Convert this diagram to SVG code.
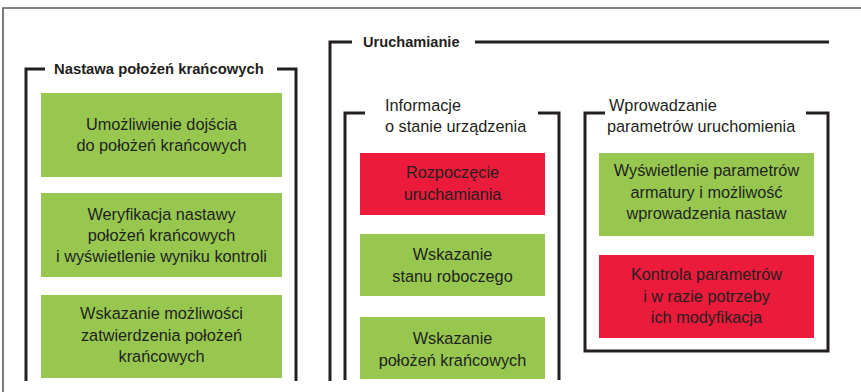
<svg xmlns="http://www.w3.org/2000/svg" width="861" height="392" viewBox="0 0 861 392">
<style>
.frame{fill:none;stroke:#5a5a5a;stroke-width:1.6}
.br{fill:none;stroke:#231f20;stroke-width:3;stroke-linejoin:miter}
.g{fill:#97c74e}
.r{fill:#ed1b3b}
.t{font-family:"Liberation Sans",Arial,sans-serif;font-size:16.3px;fill:#231f20;text-anchor:middle}
.h{font-family:"Liberation Sans",Arial,sans-serif;font-size:16.3px;fill:#231f20}
.b{font-family:"Liberation Sans",Arial,sans-serif;font-weight:bold;fill:#231f20}
</style>
<rect width="861" height="392" fill="#fff"/>
<path class="frame" d="M3,392 V8 H861"/>
<g id="connectors">
<path class="br" d="M45,69 H26 V381"/>
<path class="br" d="M277,69 H296 V381"/>
<path class="br" d="M352,42 H330 V381"/>
<path class="br" d="M475,42 H829"/>
<path class="br" d="M365,113 H345 V380"/>
<path class="br" d="M538,113 H559 V380"/>
<path class="br" d="M605,113 H585 V351 H828 V113 H806"/>
</g>
<g id="title-nastawa"><text class="b" x="54" y="74" font-size="14.8">Nastawa położeń krańcowych</text></g>
<g id="title-uruchamianie"><text class="b" x="363" y="47" font-size="14.6">Uruchamianie</text></g>
<g id="title-informacje"><text class="h" x="385" y="110.5">Informacje</text><text class="h" x="385" y="131.5">o stanie urządzenia</text></g>
<g id="title-wprowadzanie"><text class="h" x="609" y="110.5">Wprowadzanie</text><text class="h" x="607" y="131.5">parametrów uruchomienia</text></g>
<g id="n1"><rect class="g" x="41" y="93" width="241" height="84"/><text class="t" x="161.5" y="129.5">Umożliwienie dojścia</text><text class="t" x="161.5" y="151">do położeń krańcowych</text></g>
<g id="n2"><rect class="g" x="41" y="193" width="241" height="84"/><text class="t" x="161.5" y="219.5">Weryfikacja nastawy</text><text class="t" x="161.5" y="241">położeń krańcowych</text><text class="t" x="161.5" y="262">i wyświetlenie wyniku kontroli</text></g>
<g id="n3"><rect class="g" x="41" y="295" width="241" height="83"/><text class="t" x="161.5" y="318.5">Wskazanie możliwości</text><text class="t" x="161.5" y="340.5">zatwierdzenia położeń</text><text class="t" x="161.5" y="362">krańcowych</text></g>
<g id="n4"><rect class="r" x="360" y="153" width="185" height="62"/><text class="t" x="452.5" y="178">Rozpoczęcie</text><text class="t" x="452.5" y="200">uruchamiania</text></g>
<g id="n5"><rect class="g" x="360" y="234" width="185" height="62"/><text class="t" x="452.5" y="260">Wskazanie</text><text class="t" x="452.5" y="282">stanu roboczego</text></g>
<g id="n6"><rect class="g" x="360" y="317" width="185" height="62"/><text class="t" x="452.5" y="344">Wskazanie</text><text class="t" x="452.5" y="366">położeń krańcowych</text></g>
<g id="n7"><rect class="g" x="599" y="153" width="215" height="83"/><text class="t" x="706.5" y="176">Wyświetlenie parametrów</text><text class="t" x="706.5" y="197.5">armatury i możliwość</text><text class="t" x="706.5" y="219">wprowadzenia nastaw</text></g>
<g id="n8"><rect class="r" x="599" y="255" width="215" height="83"/><text class="t" x="706.5" y="280">Kontrola parametrów</text><text class="t" x="706.5" y="301.5">i w razie potrzeby</text><text class="t" x="706.5" y="323">ich modyfikacja</text></g>
</svg>
